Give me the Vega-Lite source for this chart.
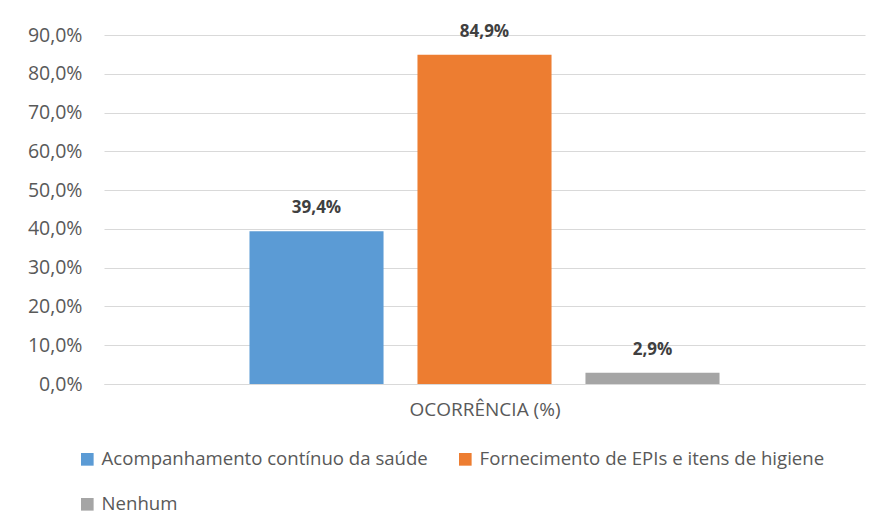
{
  "$schema": "https://vega.github.io/schema/vega-lite/v6.json",
  "width": 761,
  "height": 349,
  "autosize": {"type": "none"},
  "padding": {"left": 104, "top": 35, "right": 6, "bottom": 132},
  "background": "white",
  "config": {
    "locale": {"number": {"decimal": ",", "thousands": ".", "grouping": [3], "currency": ["R$", ""]}},
    "font": "Open Sans",
    "view": {"stroke": null}
  },
  "data": {
    "values": [
      {"serie": "Acompanhamento contínuo da saúde", "valor": 39.4},
      {"serie": "Fornecimento de EPIs e itens de higiene", "valor": 84.9},
      {"serie": "Nenhum", "valor": 2.9}
    ]
  },
  "encoding": {
    "x": {
      "field": "serie",
      "type": "nominal",
      "sort": null,
      "scale": {"paddingInner": 0.202, "paddingOuter": 0.866},
      "axis": {
        "title": "OCORRÊNCIA (%)",
        "labels": false,
        "ticks": false,
        "domainColor": "#d9d9d9",
        "domainWidth": 1,
        "titleFont": "Open Sans",
        "titleFontSize": 19,
        "titleFontWeight": "normal",
        "titleColor": "#595959",
        "titlePadding": 16
      }
    },
    "y": {
      "field": "valor",
      "type": "quantitative",
      "scale": {"domain": [0, 90]},
      "axis": {
        "title": null,
        "values": [0, 10, 20, 30, 40, 50, 60, 70, 80, 90],
        "format": ".1f",
        "labelExpr": "datum.label + '%'",
        "domain": false,
        "ticks": false,
        "grid": true,
        "gridColor": "#d9d9d9",
        "gridWidth": 1,
        "labelFontSize": 19.5,
        "labelColor": "#595959",
        "labelPadding": 22
      }
    }
  },
  "layer": [
    {
      "mark": {"type": "bar"},
      "encoding": {
        "color": {
          "field": "serie",
          "type": "nominal",
          "sort": null,
          "scale": {"range": ["#5B9BD5", "#ED7D31", "#A5A5A5"]},
          "legend": {
            "title": null,
            "orient": "none",
            "direction": "horizontal",
            "legendX": -26,
            "legendY": 415,
            "columns": 2,
            "columnPadding": 28,
            "rowPadding": 26,
            "symbolType": "square",
            "symbolSize": 160,
            "symbolStrokeWidth": 0,
            "symbolOpacity": 1,
            "labelFontSize": 18.6,
            "labelColor": "#595959",
            "labelOffset": 5,
            "labelLimit": 500
          }
        }
      }
    },
    {
      "transform": [
        {"calculate": "replace(format(datum.valor, '.1f'), '.', ',') + '%'", "as": "rotulo"}
      ],
      "mark": {"type": "text", "dy": -14, "baseline": "bottom", "fontSize": 17, "fontWeight": "bold", "color": "#404040"},
      "encoding": {
        "text": {"field": "rotulo", "type": "nominal"}
      }
    }
  ]
}
